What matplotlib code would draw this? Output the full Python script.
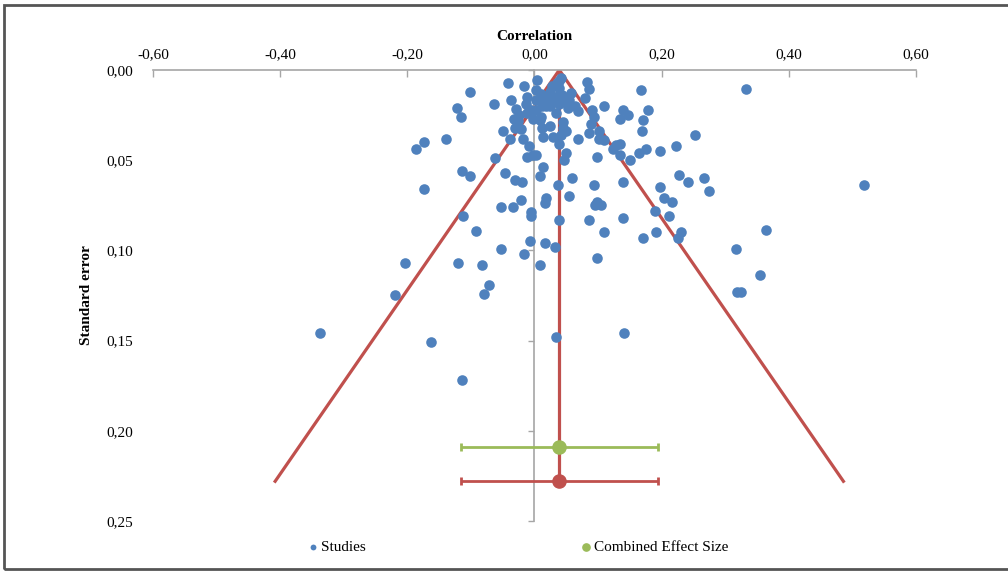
import matplotlib
matplotlib.use('Agg')
import matplotlib.pyplot as plt
from matplotlib.ticker import FuncFormatter, FixedLocator
from matplotlib.patches import Rectangle
import numpy as np

plt.rcParams['font.family'] = ['Liberation Serif', 'DejaVu Serif']
plt.rcParams['font.size'] = 11

# study correlations and their standard errors
r_studies = [
    -0.337, -0.220, -0.203, -0.162, -0.114, -0.121, -0.083, -0.071, -0.079, -0.092,
    -0.113, -0.173, -0.187, -0.173, -0.139, -0.122, -0.116, -0.101, -0.063, -0.114,
    -0.102, -0.062, -0.050, -0.039, -0.046, -0.031, -0.019, -0.053, -0.034, -0.021,
    -0.005, -0.005, -0.052, -0.007, -0.016, 0.008, 0.016, 0.033, 0.039, 0.018,
    0.017, 0.037, 0.014, 0.009, 0.034, 0.059, 0.055, 0.093, 0.139, 0.099,
    0.105, 0.095, 0.085, 0.139, 0.110, 0.099, 0.140, 0.227, 0.241, 0.267,
    0.275, 0.197, 0.204, 0.217, 0.190, 0.212, 0.170, 0.191, 0.230, 0.225,
    0.518, 0.364, 0.317, 0.354, 0.318, 0.325, 0.333, 0.167, 0.253, 0.223,
    0.198, 0.176, 0.165, 0.151, 0.178, 0.170, 0.169, 0.139, 0.147, 0.134,
    0.109, 0.091, 0.093, 0.089, 0.086, 0.102, 0.102, 0.110, 0.128, 0.134,
    0.123, 0.134, 0.098, 0.083, 0.085, 0.079, 0.069, 0.058, 0.055, 0.052,
    0.050, 0.045, 0.045, 0.042, 0.039, 0.050, 0.047, 0.069, 0.038, 0.039,
    0.037, 0.034, 0.028, 0.026, 0.018, 0.024, 0.029, 0.013, 0.012, 0.008,
    0.011, -0.003, 0.004, 0.003, 0.011, 0.021, 0.012, 0.003, 0.002, -0.041,
    -0.016, -0.037, -0.011, -0.014, -0.029, -0.025, -0.033, -0.011, -0.005, -0.031,
    -0.021, -0.018, -0.008, -0.011, -0.003, 0.003, -0.026, 0.036, 0.044, 0.042,
    0.024, 0.033, 0.039, 0.024, 0.016, 0.063, 0.042,
]
se_studies = [
    0.146, 0.125, 0.107, 0.151, 0.172, 0.107, 0.108, 0.119, 0.124, 0.089,
    0.081, 0.066, 0.044, 0.040, 0.038, 0.021, 0.026, 0.012, 0.019, 0.056,
    0.059, 0.049, 0.034, 0.038, 0.057, 0.061, 0.062, 0.076, 0.076, 0.072,
    0.079, 0.081, 0.099, 0.095, 0.102, 0.108, 0.096, 0.098, 0.083, 0.071,
    0.074, 0.064, 0.054, 0.059, 0.148, 0.060, 0.070, 0.064, 0.062, 0.073,
    0.075, 0.075, 0.083, 0.082, 0.090, 0.104, 0.146, 0.058, 0.062, 0.060,
    0.067, 0.065, 0.071, 0.073, 0.078, 0.081, 0.093, 0.090, 0.090, 0.093,
    0.0635, 0.0885, 0.099, 0.1135, 0.123, 0.123, 0.0105, 0.011, 0.036, 0.042,
    0.045, 0.044, 0.046, 0.050, 0.022, 0.028, 0.034, 0.022, 0.025, 0.027,
    0.020, 0.022, 0.026, 0.030, 0.035, 0.034, 0.038, 0.039, 0.0415, 0.041,
    0.044, 0.047, 0.048, 0.0067, 0.0105, 0.0155, 0.0225, 0.0128, 0.0165, 0.021,
    0.034, 0.029, 0.032, 0.036, 0.041, 0.046, 0.050, 0.038, 0.0063, 0.010,
    0.0146, 0.024, 0.0089, 0.0156, 0.020, 0.031, 0.037, 0.037, 0.032, 0.028,
    0.026, 0.027, 0.0053, 0.011, 0.0133, 0.0157, 0.020, 0.0167, 0.022, 0.0072,
    0.0087, 0.0168, 0.015, 0.019, 0.0217, 0.025, 0.027, 0.024, 0.022, 0.032,
    0.033, 0.038, 0.042, 0.048, 0.047, 0.047, 0.0285, 0.0072, 0.0137, 0.018,
    0.012, 0.0167, 0.019, 0.020, 0.0167, 0.020, 0.0044,
]

# combined effect
r_pooled = 0.039
ci_half = 0.155
se_max = 0.228       # bottom of funnel / red summary point
se_green = 0.209     # green summary point
z = 1.96

x_ticks = [-0.6, -0.4, -0.2, 0.0, 0.2, 0.4, 0.6]
y_ticks = [0.0, 0.05, 0.10, 0.15, 0.20, 0.25]

blue = '#4F81BD'
red = '#C0504D'
green = '#9BBB59'
grey = '#A6A6A6'

fig = plt.figure(figsize=(10.08, 5.72), dpi=100)
pos = [0.1518, 0.0892, 0.7569, 0.7885]

# overlay axes only carries the y tick labels and title at the left edge
ax_lab = fig.add_axes(pos)
ax = fig.add_axes(pos, sharey=ax_lab)
ax.patch.set_visible(False)

# funnel
ax.plot([r_pooled - z * se_max, r_pooled, r_pooled + z * se_max], [se_max, 0, se_max],
        color=red, lw=2.3, zorder=2)
ax.plot([r_pooled, r_pooled], [0, se_max], color=red, lw=2.3, zorder=2)

# summary points with CI
ax.errorbar([r_pooled], [se_green], xerr=[ci_half], fmt='none', ecolor=green,
            elinewidth=2, capsize=3, capthick=2, zorder=3)
ax.errorbar([r_pooled], [se_max], xerr=[ci_half], fmt='none', ecolor=red,
            elinewidth=2, capsize=3, capthick=2, zorder=3)
ax.scatter([r_pooled], [se_max], s=90, color=red, zorder=4)
sc_comb = ax.scatter([r_pooled], [se_green], s=90, color=green, zorder=4,
                     label='Combined Effect Size')

sc = ax.scatter(r_studies, se_studies, s=58, color=blue, zorder=5, linewidths=0,
                label='Studies')

ax.set_xlim(-0.6, 0.6)
ax.set_ylim(0.25, 0.0)

fmt = FuncFormatter(lambda v, p: ('%.2f' % (0.0 if abs(v) < 1e-9 else v)).replace('.', ','))

for s in ['bottom', 'right']:
    ax.spines[s].set_visible(False)
ax.spines['left'].set_position(('data', 0))
ax.spines['left'].set_color(grey)
ax.spines['top'].set_color(grey)
ax.spines['left'].set_linewidth(1.2)
ax.spines['top'].set_linewidth(1.2)

ax.xaxis.tick_top()
ax.xaxis.set_label_position('top')
ax.xaxis.set_major_locator(FixedLocator(x_ticks))
ax.xaxis.set_major_formatter(fmt)
ax.tick_params(axis='x', direction='in', length=5, width=1, color=grey, pad=6, labelsize=11)
ax.set_xlabel('Correlation', fontweight='bold', fontsize=11, labelpad=6)

ax.yaxis.set_major_locator(FixedLocator(y_ticks))
ax.tick_params(axis='y', direction='out', length=4, width=1, color=grey, labelleft=False)

for s in ax_lab.spines.values():
    s.set_visible(False)
ax_lab.set_xticks([])
ax_lab.yaxis.set_major_formatter(fmt)
ax_lab.tick_params(axis='y', length=0, pad=14, labelsize=11)
ax_lab.set_ylabel('Standard error', fontweight='bold', fontsize=11, labelpad=10)

fig.legend(handles=[sc, sc_comb], labels=['Studies', 'Combined Effect Size'],
           loc='center left', bbox_to_anchor=(0.293, 0.044), ncol=2, frameon=False,
           handlelength=0.5, handletextpad=0.25, columnspacing=14.2,
           markerscale=0.55, fontsize=11)

# chart frame
fig.patches.append(Rectangle((4 / 1008, 1 - 569 / 572), 1.2, (569 - 5) / 572,
                             transform=fig.transFigure, fill=False,
                             edgecolor='#555555', lw=2, clip_on=False))

fig.savefig('out.png', dpi=100)
